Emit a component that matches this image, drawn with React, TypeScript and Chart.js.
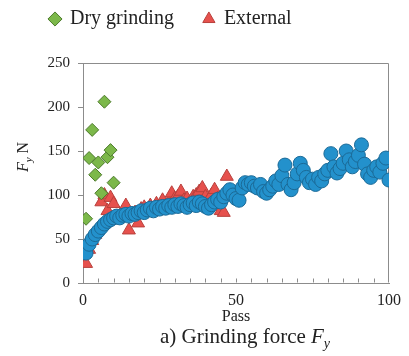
import React, { useEffect, useRef } from 'react';
import { Chart, registerables } from 'chart.js';

Chart.register(...registerables);

// ---- data ----
const dryPasses = [1, 2, 3, 4, 5, 6, 7, 8, 9, 10];
const dryForce = [73, 142, 174, 123, 137, 102, 206, 143, 151, 114];

const extPasses = [
  1, 2, 3, 4, 5, 6, 7, 8, 9, 10, 11, 12, 13, 14, 15, 16, 17, 18, 19, 20, 21, 22, 23, 24,
  25, 26, 27, 28, 29, 30, 31, 32, 33, 34, 35, 36, 37, 38, 39, 40, 41, 42, 43, 44, 45, 46, 47,
];
const extForce = [
  22, 38, 48, 55, 62, 92, 100, 82, 97, 90, 72, 76, 80, 88, 60, 76, 80, 68, 84, 86, 82, 88, 84, 90,
  86, 94, 88, 92, 102, 96, 98, 104, 94, 96, 92, 98, 100, 104, 108, 98, 94, 100, 106, 96, 82, 80, 121,
];

const mainPasses = Array.from({ length: 100 }, (_, i) => i + 1);
const mainForce = [
  34, 44, 50, 55, 59, 63, 67, 70, 72, 74,
  76, 74, 77, 78, 76, 79, 78, 80, 82, 80,
  83, 85, 82, 86, 84, 87, 85, 88, 86, 89,
  87, 90, 88, 86, 89, 91, 88, 92, 90, 87,
  85, 89, 92, 95, 92, 98, 102, 106, 100, 96,
  94, 108, 114, 112, 114, 110, 108, 112, 104, 102,
  106, 110, 116, 112, 122, 134, 112, 106, 114, 124,
  136, 128, 120, 114, 118, 112, 120, 116, 124, 128,
  147, 132, 125, 130, 136, 150, 140, 132, 138, 145,
  157, 135, 124, 120, 128, 132, 126, 136, 142, 117,
];

const xTicks = [0, 50, 100];
const yTicks = [0, 50, 100, 150, 200, 250];
const legendLabels = ['Dry grinding', 'External'];

const SERIF = '"Liberation Serif", "Times New Roman", serif';

const framePlugin = {
  id: 'frameTicks',
  beforeDatasetsDraw(chart: any) {
    const { ctx, chartArea } = chart;
    const xs = chart.scales.x;
    ctx.save();
    ctx.strokeStyle = '#8c8c8c';
    ctx.lineWidth = 1;
    const l = Math.round(chartArea.left) + 0.5;
    const r = Math.round(chartArea.right) - 0.5;
    const t = Math.round(chartArea.top) + 0.5;
    const b = Math.round(chartArea.bottom) - 0.5;
    ctx.beginPath();
    ctx.moveTo(l, t);
    ctx.lineTo(r, t);
    ctx.lineTo(r, b);
    ctx.stroke();
    ctx.beginPath();
    for (let v = 5; v < 100; v += 5) {
      const px = Math.round(xs.getPixelForValue(v)) + 0.5;
      ctx.moveTo(px, b);
      ctx.lineTo(px, b - 4);
    }
    ctx.stroke();
    ctx.restore();
  },
  afterDraw(chart: any) {
    const { ctx } = chart;
    ctx.save();
    ctx.translate(23, 157);
    ctx.rotate(-Math.PI / 2);
    ctx.fillStyle = '#222';
    ctx.textBaseline = 'alphabetic';
    ctx.textAlign = 'left';
    const fMain = 'italic 16px ' + SERIF;
    const fSub = 'italic 11px ' + SERIF;
    const fReg = '16px ' + SERIF;
    ctx.font = fMain;
    const w1 = ctx.measureText('F').width;
    ctx.font = fSub;
    const w2 = ctx.measureText('y').width;
    ctx.font = fReg;
    const w3 = ctx.measureText(' N').width;
    let x = -(w1 + w2 + w3) / 2;
    ctx.font = fMain;
    ctx.fillText('F', x, 5);
    x += w1;
    ctx.font = fSub;
    ctx.fillText('y', x, 9);
    x += w2;
    ctx.font = fReg;
    ctx.fillText(' N', x, 5);
    ctx.restore();
  },
};

const legendSpacer = {
  id: 'legendSpacer',
  beforeInit(chart: any) {
    const legend = chart.legend;
    if (!legend) return;
    const origFit = legend.fit;
    legend.fit = function () {
      origFit.call(this);
      this.height += 24;
    };
  },
};

export default function App() {
  const ref = useRef<HTMLCanvasElement | null>(null);

  useEffect(() => {
    if (!ref.current) return;
    const chart = new Chart(ref.current, {
      type: 'scatter',
      data: {
        datasets: [
          {
            label: legendLabels[0],
            data: dryPasses.map((p, i) => ({ x: p, y: dryForce[i] })),
            pointStyle: 'rectRot',
            pointRadius: 6.5,
            backgroundColor: '#7cb84a',
            borderColor: '#4c7a2b',
            borderWidth: 1,
            order: 1,
          },
          {
            label: legendLabels[1],
            data: extPasses.map((p, i) => ({ x: p, y: extForce[i] })),
            pointStyle: 'triangle',
            pointRadius: 7.5,
            backgroundColor: '#e6514d',
            borderColor: '#b8403c',
            borderWidth: 1,
            order: 2,
          },
          {
            label: '',
            data: mainPasses.map((p, i) => ({ x: p, y: mainForce[i] })),
            pointStyle: 'circle',
            pointRadius: 7,
            backgroundColor: '#2391cc',
            borderColor: '#1b6a97',
            borderWidth: 1,
            order: 0,
          },
        ],
      },
      options: {
        animation: false,
        responsive: false,
        devicePixelRatio: 1,
        layout: { padding: { left: 20, right: 18, top: -21, bottom: 0 } },
        plugins: {
          tooltip: { enabled: false },
          legend: {
            position: 'top',
            align: 'start',
            labels: {
              usePointStyle: true,
              boxWidth: 10,
              boxHeight: 10,
              padding: 30,
              color: '#222',
              font: { family: SERIF, size: 20 },
              filter: (item: any) => item.datasetIndex !== 2,
              sort: (a: any, b: any) => a.datasetIndex - b.datasetIndex,
            },
          },
        },
        scales: {
          x: {
            type: 'linear',
            min: 0,
            max: 100,
            afterBuildTicks: (s: any) => {
              s.ticks = xTicks.map((v) => ({ value: v }));
            },
            afterFit: (s: any) => {
              s.height = 73;
            },
            ticks: { color: '#222', font: { family: SERIF, size: 16 }, padding: 8 },
            grid: { display: false, drawTicks: false },
            border: { display: true, color: '#8c8c8c' },
            title: {
              display: true,
              text: 'Pass',
              color: '#222',
              font: { family: SERIF, size: 16 },
              padding: { top: 0, bottom: 30 },
            },
          },
          y: {
            type: 'linear',
            min: 0,
            max: 250,
            afterBuildTicks: (s: any) => {
              s.ticks = yTicks.map((v) => ({ value: v }));
            },
            afterFit: (s: any) => {
              s.width = 63;
            },
            ticks: { color: '#222', font: { family: SERIF, size: 15 }, padding: 8 },
            grid: {
              display: true,
              drawOnChartArea: false,
              drawTicks: true,
              tickLength: 5,
              color: '#8c8c8c',
            },
            border: { display: true, color: '#8c8c8c' },
          },
        },
      },
      plugins: [framePlugin, legendSpacer],
    } as any);
    return () => chart.destroy();
  }, []);

  return (
    <div style={{ position: 'absolute', left: 0, top: 0, width: 409, height: 356, background: '#fff' }}>
      <canvas ref={ref} width={409} height={356} style={{ display: 'block' }} />
      <div
        style={{
          position: 'absolute',
          left: 160,
          top: 325,
          fontFamily: SERIF,
          fontSize: 21,
          lineHeight: '23px',
          color: '#222',
          whiteSpace: 'nowrap',
        }}
      >
        a) Grinding force <i>F</i>
        <sub style={{ fontSize: 14, lineHeight: 0 }}>
          <i>y</i>
        </sub>
      </div>
    </div>
  );
}
